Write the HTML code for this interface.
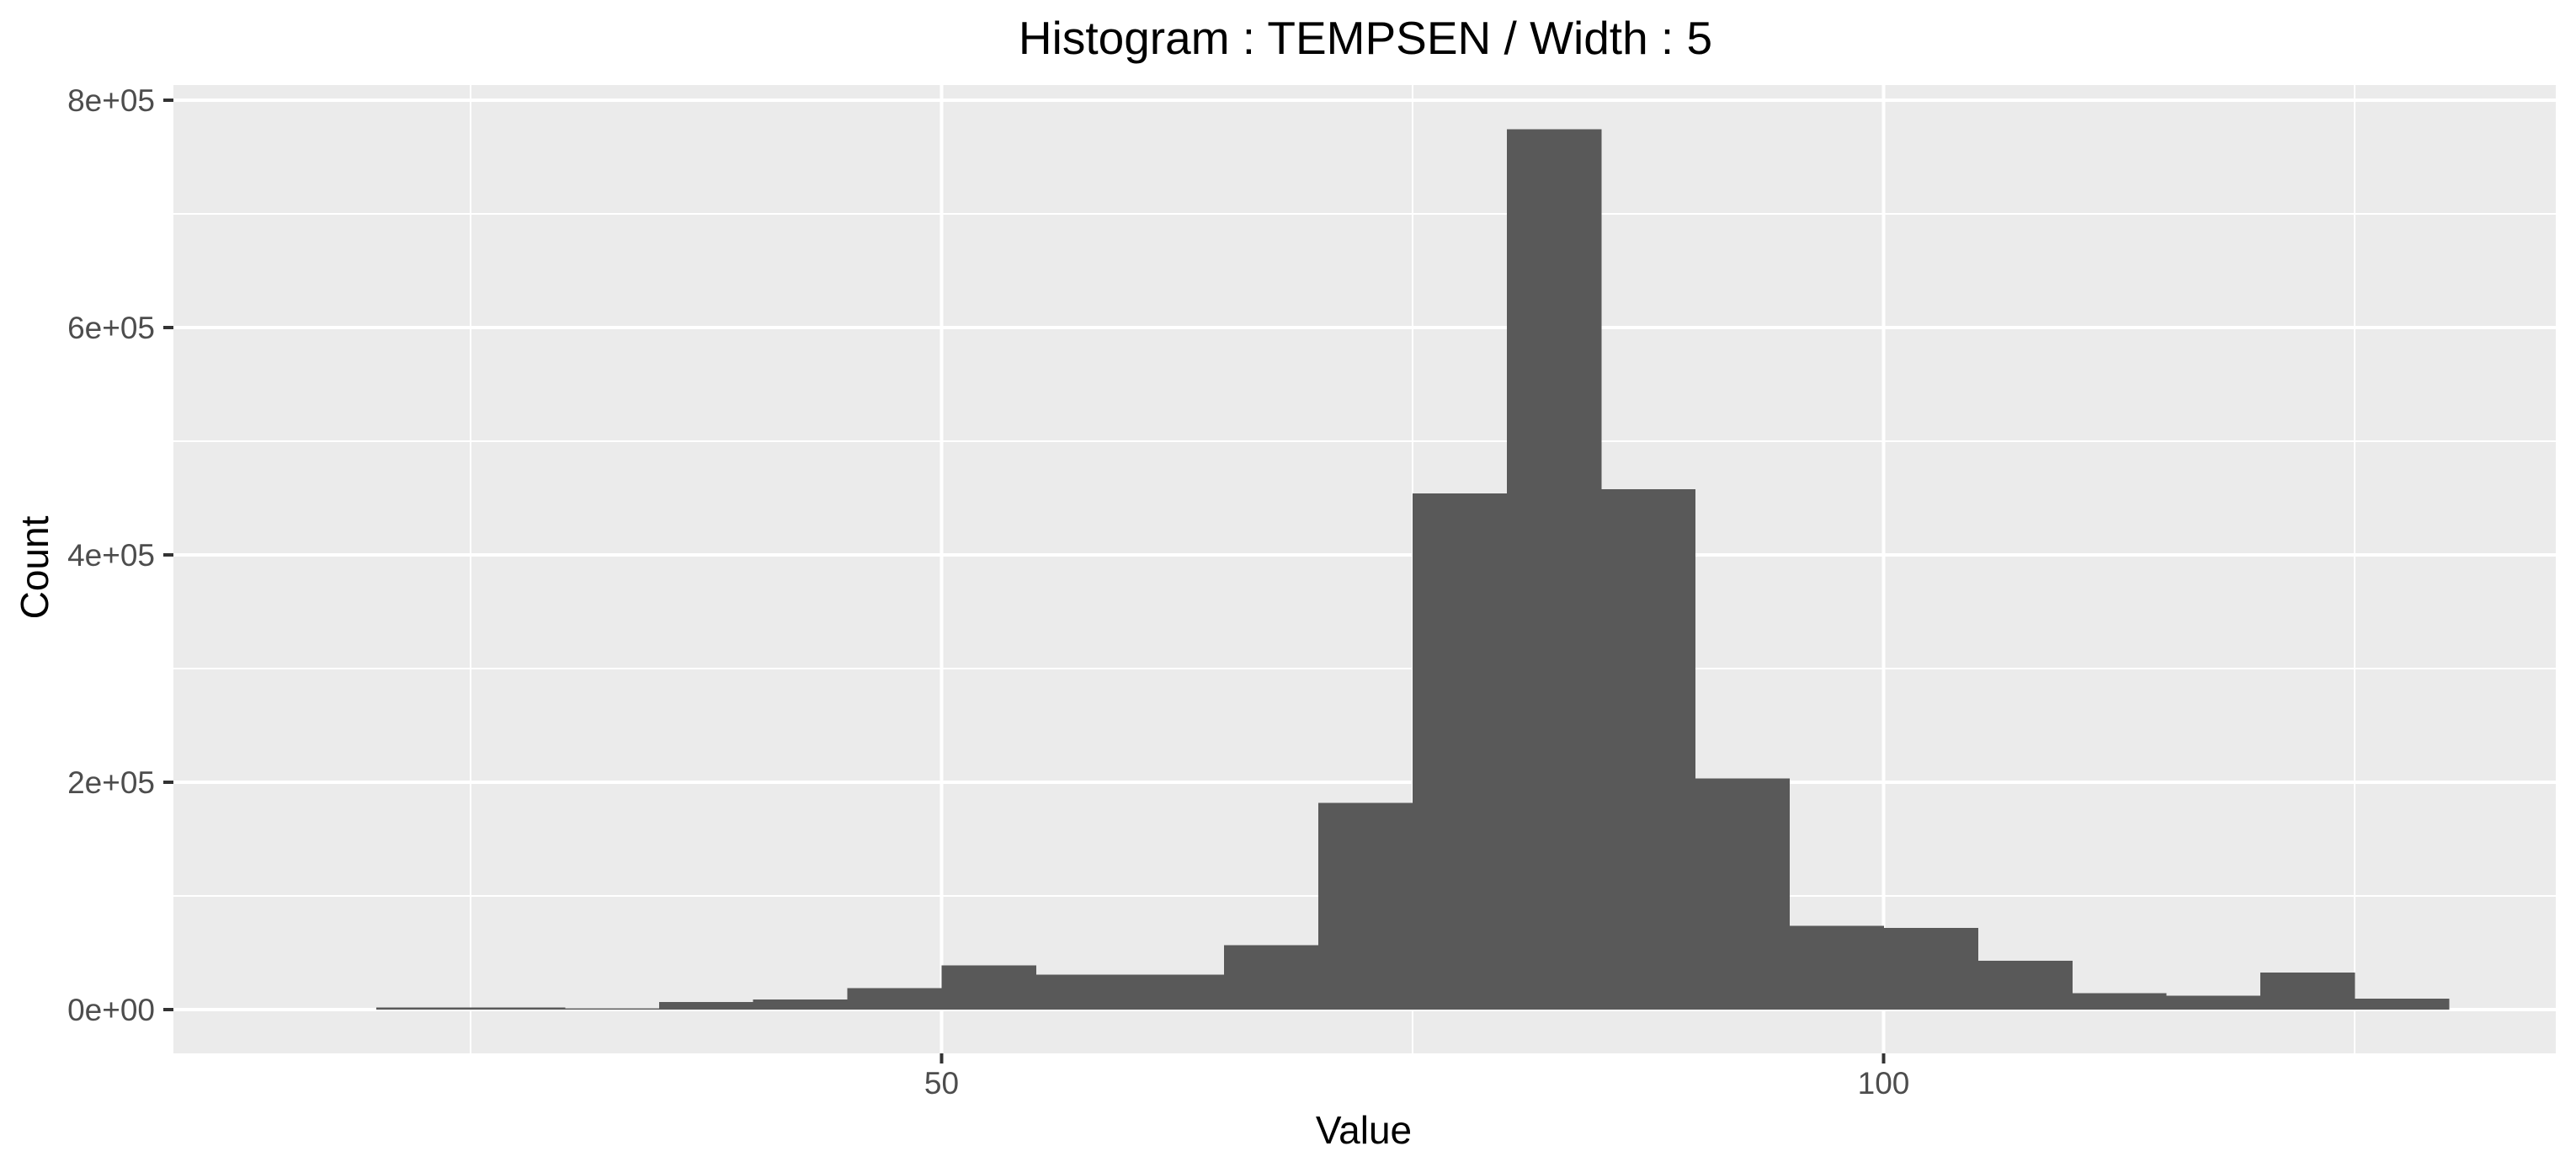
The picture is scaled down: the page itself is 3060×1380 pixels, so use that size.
<!DOCTYPE html>
<html><head><meta charset="utf-8"><style>
html,body{margin:0;padding:0;background:#fff;}
svg{display:block;font-family:"Liberation Sans",Arial,sans-serif;}
</style></head><body>
<svg id="chart" width="3060" height="1380" viewBox="0 0 3060 1380" xmlns="http://www.w3.org/2000/svg">
<rect x="0" y="0" width="3060" height="1380" fill="#fff"/>
<text x="1622" y="64" font-size="55" text-anchor="middle" fill="#000">Histogram : TEMPSEN / Width : 5</text>
<rect x="206" y="101" width="2830" height="1150" fill="#EBEBEB"/>
<g id="grid"></g>
<g id="bars" shape-rendering="crispEdges"></g>
<g id="axes"></g>
<text x="1620" y="1358" font-size="46" text-anchor="middle" fill="#000">Value</text>
<text x="0" y="0" font-size="46" text-anchor="middle" fill="#000" transform="translate(57,674) rotate(-90)">Count</text>
</svg>
<script>
const binStarts = [20,25,30,35,40,45,50,55,60,65,70,75,80,85,90,95,100,105,110,115,120,125];
const binWidth = 5;
const counts = [2000,2000,1000,6500,9000,19000,39000,30600,30600,56700,182000,454000,774500,457600,203400,73700,71700,43000,14300,12400,32600,9800];
const yTicks = [0,200000,400000,600000,800000];
const yTickLabels = ["0e+00","2e+05","4e+05","6e+05","8e+05"];
const yMinor = [100000,300000,500000,700000];
const xTicks = [50,100];
const xTickLabels = ["50","100"];
const xMinor = [25,75,125];

const P = {l:206, r:3036, t:101, b:1251};
function xs(v){ return 559 + (v-25)*22.38; }
function ys(v){ return 1199 - v*(1080/800000); }
const NS = "http://www.w3.org/2000/svg";
function mk(tag, attrs, parent){ const e=document.createElementNS(NS,tag); for(const k in attrs) e.setAttribute(k,attrs[k]); parent.appendChild(e); return e; }

const grid = document.getElementById('grid');
yMinor.forEach(v=>{
  const l = mk('line',{x1:P.l,x2:P.r,y1:ys(v),y2:ys(v),stroke:'#fff','stroke-width':2},grid);
  
  
});
xMinor.forEach(v=>{
  const l = mk('line',{x1:xs(v),x2:xs(v),y1:P.t,y2:P.b,stroke:'#fff','stroke-width':2},grid);
  
  
});
yTicks.forEach(v=>{
  const l = mk('line',{x1:P.l,x2:P.r,y1:ys(v),y2:ys(v),stroke:'#fff','stroke-width':4},grid);
  
  
});
xTicks.forEach(v=>{
  const l = mk('line',{x1:xs(v),x2:xs(v),y1:P.t,y2:P.b,stroke:'#fff','stroke-width':4},grid);
  
  
});

const bars = document.getElementById('bars');
binStarts.forEach((s,i)=>{
  const x0 = xs(s), x1 = xs(s+binWidth), y0 = ys(counts[i]), yb = ys(0);
  const r = mk('rect',{x:x0,y:y0,width:x1-x0+0.5,height:Math.max(0,yb-y0),fill:'#595959'},bars);
  
  
});

const axes = document.getElementById('axes');
yTicks.forEach((v,i)=>{
  const t = mk('line',{x1:194,x2:206,y1:ys(v),y2:ys(v),stroke:'#333','stroke-width':4},axes);
  
  
  const tx = mk('text',{x:184,y:ys(v)+13,'font-size':37,'text-anchor':'end',fill:'#4D4D4D'},axes);
  tx.textContent = yTickLabels[i];
  
  
});
xTicks.forEach((v,i)=>{
  const t = mk('line',{x1:xs(v),x2:xs(v),y1:P.b,y2:P.b+12,stroke:'#333','stroke-width':4},axes);
  
  
  const tx = mk('text',{x:xs(v),y:1299,'font-size':37,'text-anchor':'middle',fill:'#4D4D4D'},axes);
  tx.textContent = xTickLabels[i];
  
  
});
</script>
</body></html>
